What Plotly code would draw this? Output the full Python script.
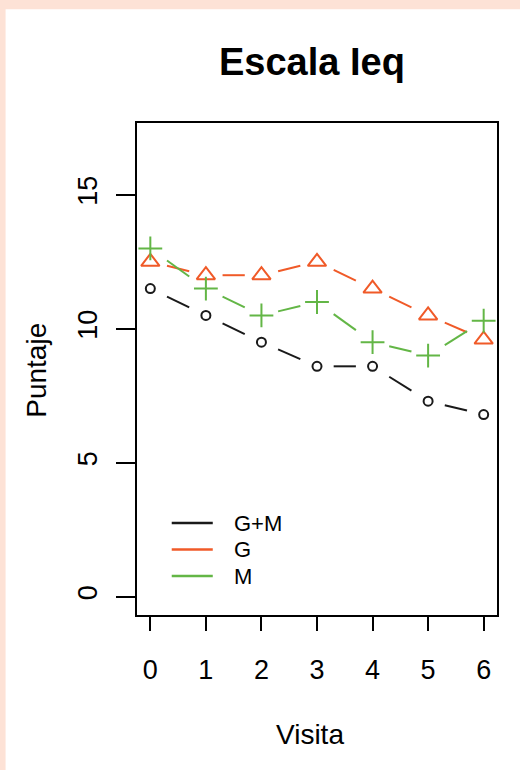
import numpy as np
import plotly.graph_objects as go

# ---- data ----
visita = [0, 1, 2, 3, 4, 5, 6]
gm = [11.5, 10.5, 9.5, 8.6, 8.6, 7.3, 6.8]
g = [12.5, 12.0, 12.0, 12.5, 11.5, 10.5, 9.6]
m = [13.0, 11.5, 10.5, 11.0, 9.5, 9.0, 10.3]
series_names = ["G+M", "G", "M"]
x_ticks = [0, 1, 2, 3, 4, 5, 6]
y_ticks = [0, 5, 10, 15]

colors = ["#1a1a1a", "#f05a28", "#63b646"]
symbols = ["circle-open", "triangle-up-open", "cross-thin-open"]
msizes = [9, 16, 17]

FONT = "Liberation Sans, Arial, sans-serif"
W, H = 520, 770
L, R, T, B = 137.3, 23, 122.7, 155
pw, ph = W - L - R, H - T - B


def px_x(p):
    return (p - L) / pw


def px_y(p):
    return (H - B - p) / ph


def gapped(xs, ys, t0=0.3, t1=0.7):
    xs = np.asarray(xs, float)
    ys = np.asarray(ys, float)
    ox, oy = [], []
    for i in range(len(xs) - 1):
        ox += [xs[i] + t0 * (xs[i + 1] - xs[i]), xs[i] + t1 * (xs[i + 1] - xs[i]), None]
        oy += [ys[i] + t0 * (ys[i + 1] - ys[i]), ys[i] + t1 * (ys[i + 1] - ys[i]), None]
    return ox, oy


fig = go.Figure()
for name, ys, c, s, ms in zip(series_names, [gm, g, m], colors, symbols, msizes):
    lx, ly = gapped(visita, ys)
    fig.add_trace(go.Scatter(x=lx, y=ly, mode="lines", line=dict(color=c, width=2),
                             showlegend=False, hoverinfo="skip"))
    fig.add_trace(go.Scatter(x=visita, y=ys, mode="markers", name=name, showlegend=False,
                             marker=dict(symbol=s, size=ms, color=c, line=dict(color=c, width=2))))

axis_common = dict(showline=True, linecolor="black", linewidth=2, mirror=True,
                   showgrid=False, zeroline=False, ticks="outside", tickcolor="black",
                   tickwidth=2, tickfont=dict(family=FONT, size=27, color="black"))
fig.update_xaxes(range=[-0.24, 6.24], tickvals=x_ticks, ticklen=14,
                 ticklabelstandoff=16, **axis_common)
fig.update_yaxes(range=[-0.68, 17.68], tickvals=y_ticks, ticklen=19, tickangle=-90,
                 ticklabelstandoff=8, **axis_common)

annotations = [
    dict(text="<b>Escala Ieq</b>", x=px_x(312), y=px_y(62), font=dict(size=38)),
    dict(text="Visita", x=px_x(310), y=px_y(735), font=dict(size=28)),
    dict(text="Puntaje", x=px_x(37), y=px_y(370), font=dict(size=28), textangle=-90),
]
for a in annotations:
    a.update(xanchor="center")

shapes = [dict(type="rect", xref="paper", yref="paper", layer="below",
               x0=px_x(6), x1=px_x(530), y0=px_y(780), y1=px_y(9),
               fillcolor="white", line=dict(width=0))]

# manual legend (R style: line then label)
for i, (name, c) in enumerate(zip(series_names, colors)):
    yy = px_y(523 + 26.5 * i)
    shapes.append(dict(type="line", xref="paper", yref="paper", x0=px_x(172), x1=px_x(213),
                       y0=yy, y1=yy, line=dict(color=c, width=2.5)))
    annotations.append(dict(text=name, x=px_x(232), y=yy, xanchor="left", font=dict(size=22)))

for a in annotations:
    a.update(xref="paper", yref="paper", showarrow=False, yanchor="middle")
    a["font"].update(family=FONT, color="black")

fig.update_layout(
    width=W, height=H,
    margin=dict(l=L, r=R, t=T, b=B, pad=0),
    paper_bgcolor="#fde2d6", plot_bgcolor="white",
    annotations=annotations,
    shapes=shapes,
    showlegend=False,
)
fig.write_html("out.html")
